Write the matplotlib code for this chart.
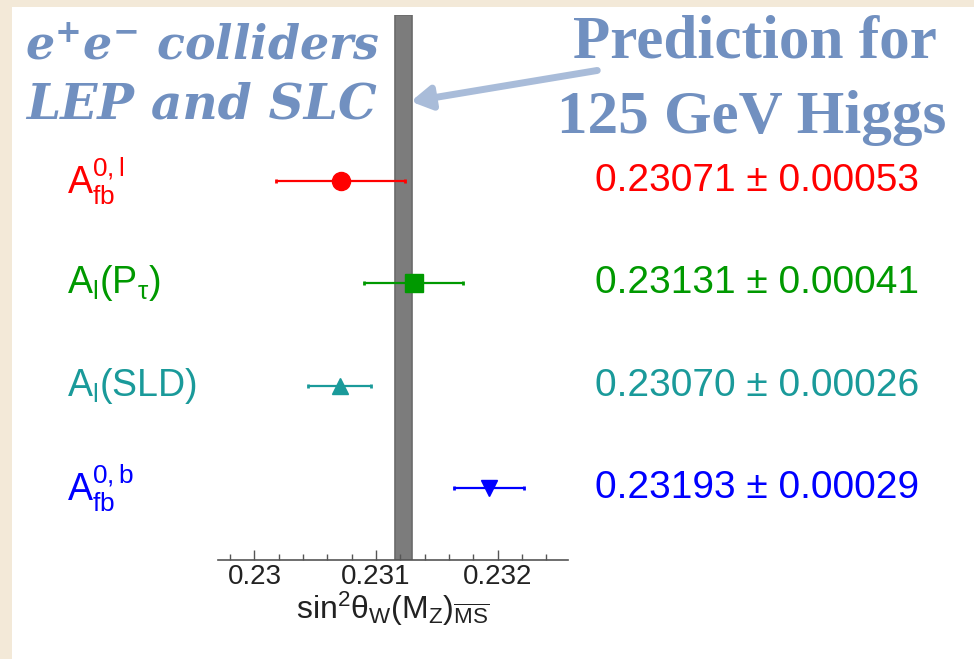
import matplotlib.pyplot as plt
from matplotlib.transforms import blended_transform_factory
from matplotlib.ticker import FixedLocator, MultipleLocator

plt.rcParams['font.family'] = ['Liberation Sans', 'DejaVu Sans']
plt.rcParams['mathtext.fontset'] = 'custom'
plt.rcParams['mathtext.rm'] = 'Liberation Sans'
plt.rcParams['mathtext.it'] = 'Liberation Sans:italic'
plt.rcParams['mathtext.default'] = 'regular'

# measurements of sin^2 theta_eff (top to bottom)
labels = [r'$A_{fb}^{0,l}$', r'A$_l$(P$_\tau$)', r'A$_l$(SLD)', r'$A_{fb}^{0,b}$']
values = [0.23071, 0.23131, 0.23070, 0.23193]
errors = [0.00053, 0.00041, 0.00026, 0.00029]
value_text = ['0.23071 ± 0.00053', '0.23131 ± 0.00041',
              '0.23070 ± 0.00026', '0.23193 ± 0.00029']
colors = ['#ff0000', '#009900', '#1a9a9a', '#0000ff']
markers = ['o', 's', '^', 'v']
marker_sizes = [13, 13, 12, 12]
rows = [4, 3, 2, 1]

# SM prediction band for a 125 GeV Higgs
pred_center = 0.23123
pred_halfwidth = 0.00007

tick_values = [0.230, 0.231, 0.232]
tick_labels = ['0.23', '0.231', '0.232']

W, H = 974, 659
fig = plt.figure(figsize=(W / 100, H / 100), dpi=100)
fig.patch.set_facecolor('#f3e9d8')

# white slide panel
panel = plt.Rectangle((12 / W, 0), 1, 1 - 7 / H, transform=fig.transFigure,
                      facecolor='white', edgecolor='none', zorder=-10)
fig.patches.append(panel)

ax = fig.add_axes([218 / W, 99 / H, 350 / W, (644 - 99) / H], zorder=2)
ax.set_facecolor('none')
ax.set_xlim(0.2297, 0.23258)
ax.set_ylim(0.3, 5.62)

ax.axvspan(pred_center - pred_halfwidth, pred_center + pred_halfwidth,
           facecolor='#7c7c7c', edgecolor='#6a6a6a', linewidth=1.2, zorder=1)

for y, v, e, c, m, ms in zip(rows, values, errors, colors, markers, marker_sizes):
    ax.errorbar(v, y, xerr=e, fmt=m, color=c, ms=ms, elinewidth=1.6,
                capsize=1.5, capthick=2, zorder=3)

for side in ['left', 'right', 'top']:
    ax.spines[side].set_visible(False)
ax.spines['bottom'].set_linewidth(1.2)
ax.spines['bottom'].set_color('#555555')
ax.set_yticks([])
ax.xaxis.set_major_locator(FixedLocator(tick_values))
ax.set_xticklabels(tick_labels, fontsize=20)
ax.xaxis.set_minor_locator(MultipleLocator(0.0002))
ax.tick_params(axis='x', which='major', direction='in', length=7, width=1, colors='#555555',
               labelcolor='#222222', pad=3)
ax.tick_params(axis='x', which='minor', direction='in', length=4, width=1, colors='#555555')
ax.set_xlabel(r'sin$^2\theta_W$(M$_Z$)$_{\overline{MS}}$', fontsize=23, color='#222222',
              labelpad=0)

# row labels on both sides
trans = blended_transform_factory(fig.transFigure, ax.transData)
for y, lab, txt, c in zip(rows, labels, value_text, colors):
    fig.text(67 / W, y, lab, transform=trans, color=c, fontsize=27,
             ha='left', va='center')
    fig.text(595 / W, y, txt, transform=trans, color=c, fontsize=28,
             ha='left', va='center')

title_color = '#7190c0'
fig.text(202 / W, 1 - 46 / H, r'e$^{\mathbf{+}}$e$^{\mathbf{-}}$ colliders', fontsize=33,
         color=title_color, family='DejaVu Serif', weight='bold', style='italic',
         ha='center', va='center')
fig.text(202 / W, 1 - 105 / H, 'LEP and SLC', fontsize=35,
         color=title_color, family='DejaVu Serif', weight='bold', style='italic',
         ha='center', va='center')
fig.text(755 / W, 1 - 42 / H, 'Prediction for', fontsize=44,
         color=title_color, family='Liberation Serif', weight='bold',
         ha='center', va='center')
fig.text(752 / W, 1 - 118 / H, '125 GeV Higgs', fontsize=44,
         color=title_color, family='Liberation Serif', weight='bold',
         ha='center', va='center')

fig.add_artist(plt.Annotation('', xy=(408 / W, 1 - 102 / H), xytext=(600 / W, 1 - 70 / H),
                              xycoords='figure fraction', textcoords='figure fraction',
                              arrowprops=dict(arrowstyle='-|>,head_length=1.2,head_width=0.7',
                                              color='#a9bcd9', lw=5)))

fig.savefig('out.png', dpi=100, facecolor=fig.get_facecolor())
